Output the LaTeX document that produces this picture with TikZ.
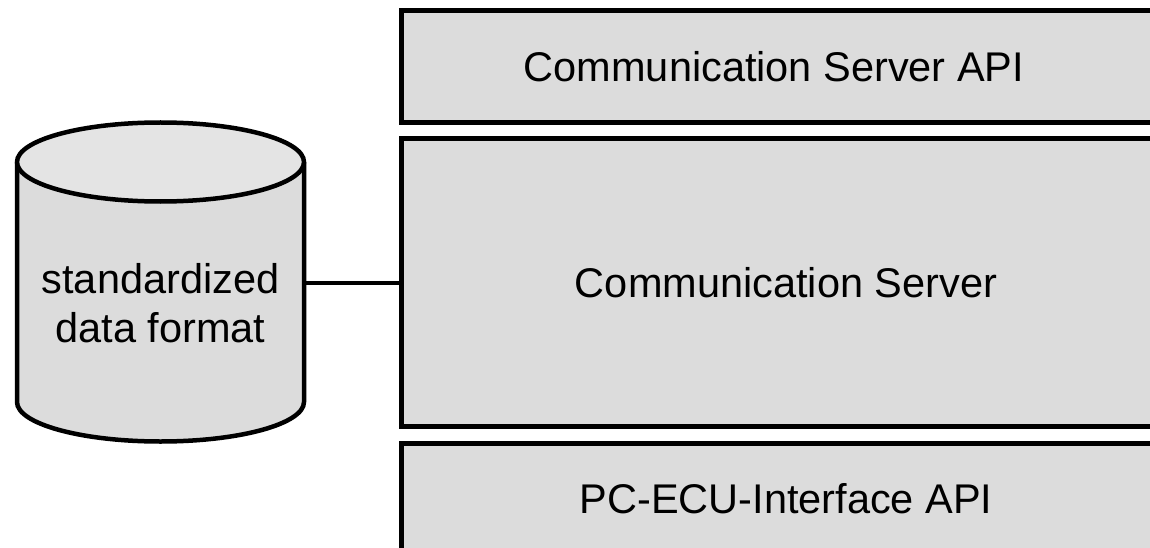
\documentclass[tikz,border=0pt]{standalone}
\usepackage{fontspec}
\setmainfont{Liberation Sans}
\definecolor{layerfill}{HTML}{DCDCDC}
\definecolor{dbbody}{HTML}{DCDCDC}
\definecolor{dbtop}{HTML}{E4E4E4}
\tikzset{
  layer/.style={draw=black, fill=layerfill, line width=5pt, rectangle,
    minimum width=770pt, inner sep=0pt, outer sep=0pt, anchor=north west},
  label/.style={font=\fontsize{41.5pt}{48.4pt}\selectfont, inner sep=0pt, outer sep=0pt, align=center},
  dbline/.style={draw=black, line width=4.5pt, line join=round},
  link/.style={draw=black, line width=4.5pt}
}
\begin{document}
\begin{tikzpicture}[x=1pt, y=-1pt]
  \useasboundingbox (0,0) rectangle (1150,548);
  \clip (0,0) rectangle (1150,548);

  % protocol layers
  \node[layer, minimum height=111.5pt] (api) at (401,11) {};
  \node[label] (apitext) at (774,67) {Communication Server API};
  \node[layer, minimum height=287.5pt] (srv) at (401,139) {};
  \node[label] (srvtext) at (srv.center) {Communication Server};
  \node[layer, minimum height=111.5pt] (ecu) at (401,443) {};
  \node[label] (ecutext) at (ecu.center) {PC-ECU-Interface API};

  % data store drawn as a cylinder
  \filldraw[dbline, fill=dbbody] (17,162) -- (17,402)
    arc[start angle=180, end angle=0, x radius=143.5, y radius=39.5] -- (304,162);
  \filldraw[dbline, fill=dbtop] (160.5,162) ellipse[x radius=143.5, y radius=39.5];
  \node[label, minimum width=287pt, minimum height=280pt] (db) at (160.5,303)
    {standardized\\data format};

  % link between the store and the server
  \draw[link] (db.east |- srv.west) -- (srv.west);
\end{tikzpicture}
\end{document}
